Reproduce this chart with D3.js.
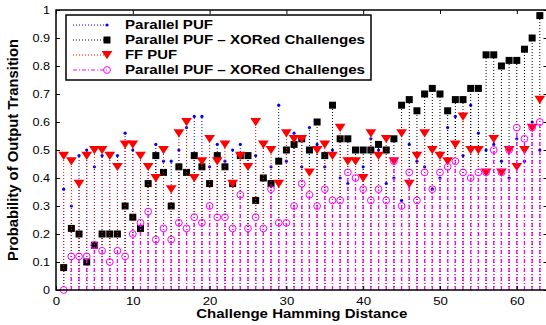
<!DOCTYPE html>
<html>
<head>
<meta charset="utf-8">
<script src="https://cdn.jsdelivr.net/npm/d3@7"></script>
<style>
  html, body { margin: 0; padding: 0; background: #fff; overflow: hidden; }
  svg { display: block; }
</style>
</head>
<body>
<svg id="chart" width="546" height="325"></svg>
<script>
// Challenge Hamming distance (x) for every measured point
const distances = [1,2,3,4,5,6,7,8,9,10,11,12,13,14,15,16,17,18,19,20,21,22,23,24,25,26,27,28,29,30,31,32,
  33,34,35,36,37,38,39,40,41,42,43,44,45,46,47,48,49,50,51,52,53,54,55,56,57,58,59,60,61,62,63];

// Probability of output transition per series
const parallelPuf = [0.36,0.30,0.48,0.50,0.44,0.48,0.48,0.48,0.56,0.50,0.48,0.44,0.52,0.46,0.46,0.50,
  0.58,0.62,0.62,0.44,0.52,0.46,0.50,0.52,0.48,0.48,0.52,0.44,0.66,0.46,0.56,0.44,0.58,0.52,0.44,0.50,
  0.40,0.38,0.46,0.44,0.54,0.50,0.38,0.40,0.32,0.52,0.46,0.44,0.36,0.40,0.58,0.62,0.48,0.66,0.56,0.50,
  0.52,0.46,0.40,0.54,0.46,0.60,0.50];
const parallelPufXor = [0.08,0.22,0.20,0.10,0.16,0.20,0.20,0.20,0.30,0.26,0.22,0.38,0.48,0.42,0.30,0.44,
  0.42,0.48,0.44,0.38,0.48,0.44,0.38,0.48,0.48,0.32,0.40,0.38,0.46,0.50,0.52,0.54,0.50,0.60,0.48,0.66,
  0.54,0.54,0.50,0.50,0.50,0.52,0.50,0.54,0.66,0.68,0.64,0.70,0.72,0.70,0.64,0.68,0.68,0.72,0.72,0.84,
  0.84,0.80,0.82,0.82,0.86,0.90,0.98];
const ffPuf = [0.48,0.46,0.38,0.48,0.50,0.50,0.48,0.44,0.52,0.52,0.48,0.44,0.40,0.50,0.36,0.56,
  0.60,0.40,0.46,0.54,0.46,0.52,0.38,0.48,0.44,0.60,0.52,0.50,0.38,0.56,0.54,0.54,0.42,0.50,0.52,0.48,
  0.58,0.46,0.46,0.40,0.56,0.48,0.54,0.46,0.56,0.38,0.48,0.56,0.50,0.48,0.46,0.52,0.62,0.50,0.50,0.42,
  0.54,0.42,0.50,0.44,0.50,0.58,0.68];
const parallelPufXor2 = [0.00,0.12,0.12,0.12,0.16,0.14,0.10,0.14,0.12,0.20,0.24,0.28,0.18,0.22,0.18,0.24,
  0.22,0.26,0.24,0.30,0.26,0.26,0.22,0.34,0.22,0.26,0.22,0.36,0.24,0.24,0.30,0.38,0.34,0.30,0.36,0.32,
  0.32,0.42,0.40,0.36,0.32,0.36,0.32,0.46,0.30,0.42,0.32,0.42,0.36,0.42,0.44,0.46,0.42,0.40,0.42,0.42,
  0.50,0.42,0.50,0.58,0.54,0.58,0.60];

const seriesNames = ["Parallel PUF", "Parallel PUF \u2013 XORed Challenges", "FF PUF",
  "Parallel PUF \u2013 XORed Challenges"];
const xTicks = [0, 10, 20, 30, 40, 50, 60];
const yTicks = [0, 0.1, 0.2, 0.3, 0.4, 0.5, 0.6, 0.7, 0.8, 0.9, 1];
const yTickLabels = ["0", "0.1", "0.2", "0.3", "0.4", "0.5", "0.6", "0.7", "0.8", "0.9", "1"];
const xLabel = "Challenge Hamming Distance";
const yLabel = "Probability of Output Transition";

const svg = d3.select("#chart");
const plot = { left: 56, top: 10, right: 547.5, bottom: 290 };
const x = d3.scaleLinear().domain([0, 64]).range([plot.left, plot.right]);
const y = d3.scaleLinear().domain([0, 1]).range([plot.bottom, plot.top]);

const FONT = "'Liberation Sans', Arial, Helvetica, sans-serif";

// marker painters (drawn centred on 0,0)
const markers = {
  dot: (g, c) => g.append("circle").attr("r", 1.6).attr("fill", c),
  square: (g, c) => g.append("rect").attr("x", -3.5).attr("y", -3.5).attr("width", 7).attr("height", 7).attr("fill", c),
  triangle: (g, c) => g.append("path").attr("d", "M-5.4,-3.9L5.4,-3.9L0,4.3Z").attr("fill", c),
  circle: (g, c) => g.append("circle").attr("r", 3.4).attr("fill", "none").attr("stroke", c).attr("stroke-width", 1)
};

const series = [
  { name: seriesNames[0], values: parallelPuf, color: "#0000ff", dash: "1,2", width: 1, marker: "dot" },
  { name: seriesNames[1], values: parallelPufXor, color: "#000000", dash: "1,2", width: 1, marker: "square" },
  { name: seriesNames[2], values: ffPuf, color: "#ff0000", dash: "1,2", width: 1, marker: "triangle" },
  { name: seriesNames[3], values: parallelPufXor2, color: "#ff00ff", dash: "4,2,1,2", width: 1.3, marker: "circle" }
];

// stems and markers, one series after another
series.forEach(s => {
  const g = svg.append("g");
  const pts = distances.map((d, i) => ({ d, v: s.values[i] }));
  g.selectAll("line").data(pts).join("line")
    .attr("x1", p => x(p.d)).attr("x2", p => x(p.d))
    .attr("y1", y(0)).attr("y2", p => y(p.v))
    .attr("stroke", s.color).attr("stroke-width", s.width)
    .attr("stroke-dasharray", s.dash);
  pts.forEach(p => {
    const mg = g.append("g").attr("transform", `translate(${x(p.d)},${y(p.v)})`);
    markers[s.marker](mg, s.color);
  });
});

// axes: ticks point inward on all four sides
const tick = 4;
const bottom = svg.append("g").attr("transform", `translate(0,${plot.bottom})`)
  .call(d3.axisBottom(x).tickValues(xTicks).tickSize(-tick).tickPadding(7).tickFormat(d3.format("d")));
svg.append("g").attr("transform", `translate(0,${plot.top})`)
  .call(d3.axisTop(x).tickValues(xTicks).tickSize(-tick).tickFormat(""));
const left = svg.append("g").attr("transform", `translate(${plot.left},0)`)
  .call(d3.axisLeft(y).tickValues(yTicks).tickSize(-tick).tickPadding(6).tickFormat((d, i) => yTickLabels[i]));
svg.append("g").attr("transform", `translate(${plot.right},0)`)
  .call(d3.axisRight(y).tickValues(yTicks).tickSize(-tick).tickFormat(""));
svg.selectAll(".domain").remove();
svg.selectAll(".tick line").attr("stroke", "#000").attr("stroke-width", 1);
svg.selectAll(".tick text").attr("font-family", FONT).attr("font-size", 11.5).attr("fill", "#000");
bottom.selectAll(".tick text").attr("transform", "scale(1.15,1)").attr("x", 0);
left.selectAll(".tick text").attr("transform", "scale(1.1,1)").attr("x", -6 / 1.1);

svg.append("rect")
  .attr("x", plot.left).attr("y", plot.top)
  .attr("width", plot.right - plot.left).attr("height", plot.bottom - plot.top)
  .attr("fill", "none").attr("stroke", "#000").attr("stroke-width", 1.5);

// axis titles
svg.append("text")
  .attr("x", (plot.left + plot.right) / 2).attr("y", 318)
  .attr("text-anchor", "middle").attr("font-family", FONT).attr("font-weight", "bold")
  .attr("font-size", 12).attr("textLength", 211).attr("lengthAdjust", "spacingAndGlyphs")
  .text(xLabel);
svg.append("text")
  .attr("transform", `translate(18,${(plot.top + plot.bottom) / 2}) scale(1.2,1) rotate(-90)`)
  .attr("text-anchor", "middle").attr("font-family", FONT).attr("font-weight", "bold")
  .attr("font-size", 12).attr("textLength", 222).attr("lengthAdjust", "spacingAndGlyphs")
  .text(yLabel);

// legend
const legend = svg.append("g");
const lg = { x: 66, y: 15, w: 305, h: 65 };
legend.append("rect").attr("x", lg.x).attr("y", lg.y).attr("width", lg.w).attr("height", lg.h)
  .attr("fill", "#fff").attr("stroke", "#000").attr("stroke-width", 1.5);
const textWidths = [88, 240, 52, 240];
series.forEach((s, i) => {
  const cy = 25 + i * 15;
  legend.append("line").attr("x1", 73).attr("x2", 107).attr("y1", cy).attr("y2", cy)
    .attr("stroke", s.color).attr("stroke-width", 1).attr("stroke-dasharray", s.dash);
  markers[s.marker](legend.append("g").attr("transform", `translate(107,${cy})`), s.color);
  legend.append("text").attr("x", 125).attr("y", cy + 4.3)
    .attr("font-family", FONT).attr("font-weight", "bold").attr("font-size", 12)
    .attr("textLength", textWidths[i]).attr("lengthAdjust", "spacingAndGlyphs")
    .text(s.name);
});
</script>
</body>
</html>
